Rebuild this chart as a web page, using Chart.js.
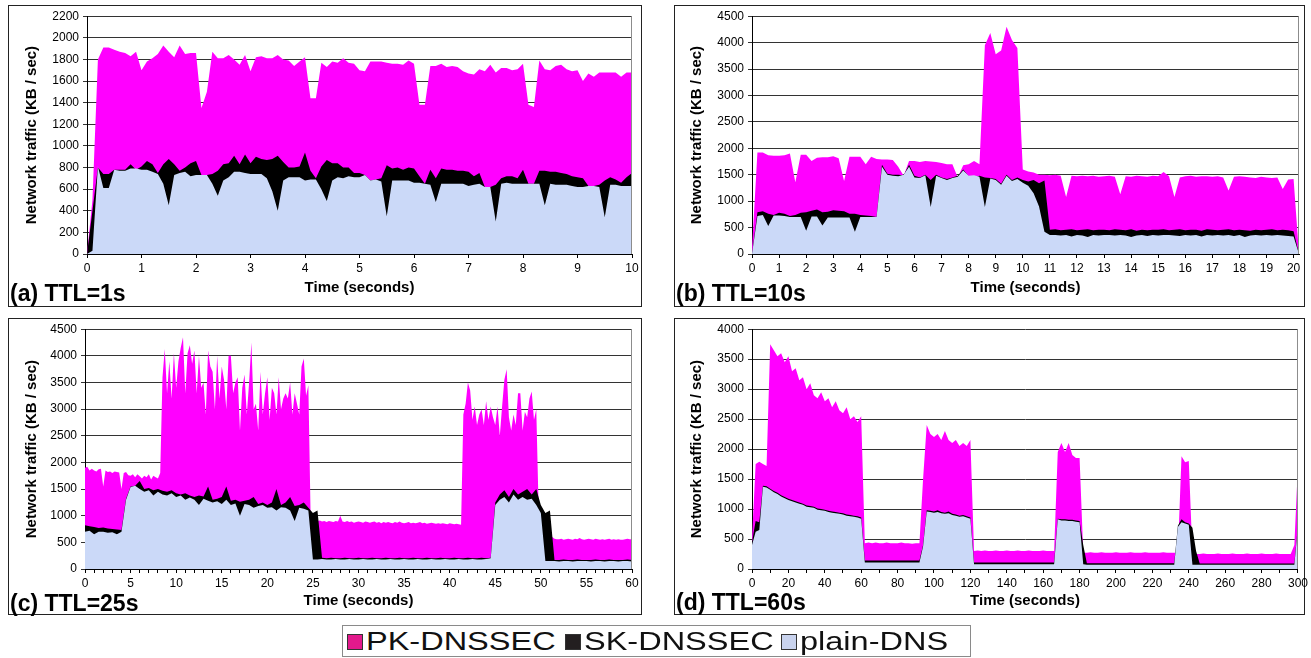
<!DOCTYPE html>
<html lang="en">
<head>
<meta charset="UTF-8">
<title>DNS traffic by TTL</title>
<script src="https://cdn.jsdelivr.net/npm/chart.js@4.4.1/dist/chart.umd.min.js"></script>
<style>
    body{
        margin: 0;
        width: 1311px;
        height: 658px;
        position: relative;
        background: #fff;
        font-family: "Liberation Sans", Arial, sans-serif;
        overflow: hidden;
    }
    .panel{
        position: absolute;
        border: 1.5px solid #222;
        box-sizing: border-box;
    }
    canvas{
        position: absolute;
    }
    .tag{
        position: absolute;
        font-weight: bold;
        font-size: 23px;
        line-height: 23px;
        color: #000;
        white-space: nowrap;
    }
    #legend{
        position: absolute;
        left: 342px; top: 625px;
        width: 629px; height: 32px;
        border: 1px solid #8a8a8a;
        box-sizing: border-box;
    }
    .sw{
        position: absolute;
        top: 8px;
        width: 14px; height: 14px;
        border: 1px solid #333;
    }
    .lt{
        position: absolute;
        top: 3px;
        font-size: 25px;
        line-height: 25px;
        color: #111;
        transform: scaleX(1.3);
        transform-origin: left center;
        white-space: nowrap;
    }
</style>
</head>
<body>
<div class="panel" style="left:8px;top:5px;width:634px;height:302px"></div>
<div class="panel" style="left:674px;top:5px;width:631px;height:302px"></div>
<div class="panel" style="left:8px;top:318px;width:634px;height:297px"></div>
<div class="panel" style="left:674px;top:318px;width:631px;height:297px"></div>

<canvas id="chartA" width="634" height="302" style="left:8px;top:5px"></canvas>
<canvas id="chartB" width="637" height="302" style="left:674px;top:5px"></canvas>
<canvas id="chartC" width="634" height="297" style="left:8px;top:318px"></canvas>
<canvas id="chartD" width="637" height="297" style="left:674px;top:318px"></canvas>

<div class="tag" style="left:10px;top:282px">(a) TTL=1s</div>
<div class="tag" style="left:676px;top:282px">(b) TTL=10s</div>
<div class="tag" style="left:10px;top:592px">(c) TTL=25s</div>
<div class="tag" style="left:676px;top:591px">(d) TTL=60s</div>

<div id="legend">
    <div class="sw" style="left:4px;background:#e2198c"></div>
    <div class="lt" style="left:23px">PK-DNSSEC</div>
    <div class="sw" style="left:222px;background:#231f20"></div>
    <div class="lt" style="left:241px">SK-DNSSEC</div>
    <div class="sw" style="left:438px;background:#c9d3ee"></div>
    <div class="lt" style="left:457px">plain-DNS</div>
</div>

<script>
// ---- (a) TTL=1s, one sample every 0.1 s ----
var timeA = Array.from({length: 101}, function(_, i){ return i / 10; });
var pkA = [
    0,500,1800,1910,1910,1890,1870,1860,1830,1870,
    1700,1780,1810,1850,1930,1870,1820,1930,1850,1860,
    1860,1350,1500,1870,1810,1810,1840,1800,1750,1840,
    1690,1820,1830,1810,1810,1840,1800,1790,1740,1780,
    1820,1440,1440,1770,1730,1780,1770,1810,1770,1760,
    1700,1690,1780,1780,1780,1770,1760,1760,1750,1790,
    1760,1380,1380,1740,1740,1760,1730,1740,1730,1690,
    1670,1660,1710,1690,1750,1680,1720,1720,1700,1710,
    1760,1380,1360,1790,1710,1700,1740,1750,1710,1690,
    1700,1600,1670,1640,1680,1680,1680,1680,1640,1680,
    1680];
var skA = [
    0,400,800,740,740,780,780,780,830,780,
    810,860,830,750,830,880,830,770,800,840,
    860,730,730,740,770,830,840,910,830,920,
    840,900,880,870,880,910,850,800,800,810,
    940,770,700,810,870,840,840,800,800,750,
    750,730,680,690,700,820,790,800,780,800,
    790,720,650,780,700,790,780,780,770,770,
    760,720,750,620,620,640,700,720,720,700,
    780,650,650,770,770,760,760,750,740,720,
    710,700,630,630,640,680,710,690,660,710,
    750];
var plainA = [
    0,30,810,610,610,780,770,770,790,790,
    780,780,760,740,650,450,730,750,760,720,
    730,730,730,650,540,680,710,760,760,750,
    740,740,740,700,580,400,680,710,710,710,
    680,690,690,600,490,680,710,700,720,710,
    710,730,680,690,670,350,680,680,680,680,
    660,660,650,640,480,650,650,650,650,650,
    630,640,650,620,620,300,650,660,650,650,
    650,650,650,650,450,650,640,640,640,630,
    620,620,630,630,620,340,640,640,630,630,
    630];

// ---- (b) TTL=10s, one sample every 0.2 s ----
var timeB = Array.from({length: 102}, function(_, i){ return i / 5; });
var pkB = [
    100,1920,1920,1870,1860,  1860,1870,1900,1360,1880,
    1880,1760,1820,1830,1830, 1850,1810,1380,1840,1840,
    1840,1700,1840,1800,1790, 1790,1780,1650,1480,1760,
    1760,1740,1760,1750,1740, 1720,1700,1700,1450,1680,
    1700,1760,1700,3950,4180, 3780,3850,4300,4050,3900,
    1600,1560,1540,1500,1500, 1490,1500,1480,1080,1480,
    1470,1480,1470,1480,1460, 1470,1480,1460,1130,1470,
    1460,1480,1470,1460,1480, 1470,1550,1470,1080,1450,
    1470,1480,1460,1470,1470, 1460,1470,1450,1200,1460,
    1470,1460,1450,1440,1460, 1450,1440,1450,1230,1410,
    1420,0];
var skB = [
    0,790,810,760,740,        780,760,720,740,780,
    790,820,840,790,800,      830,820,810,760,760,
    740,730,720,700,1690,     1520,1500,1500,1490,1690,
    1480,1450,1500,1400,1500, 1450,1420,1450,1480,1600,
    1470,1450,1480,1450,1440, 1420,1330,1500,1400,1450,
    1400,1370,1400,1340,1390, 460,470,450,460,470,
    450,460,470,450,460,      460,450,470,460,450,
    470,440,460,450,460,      460,470,450,460,470,
    450,460,460,440,470,      460,450,460,470,450,
    460,450,440,460,450,      460,470,450,460,450,
    430,0];
var plainB = [
    0,720,740,530,730,        730,720,700,700,700,
    440,710,710,540,690,      690,690,690,690,420,
    700,700,700,700,1650,     1500,1480,1470,1500,1650,
    1450,1440,1490,890,1480,  1440,1400,1440,1460,1580,
    1480,1490,1460,890,1430,  1400,1310,1480,1380,1420,
    1350,1290,1150,900,420,   360,360,350,360,330,
    360,350,320,360,350,      360,360,350,360,350,
    320,350,360,340,360,      350,360,360,350,340,
    360,350,360,330,360,      350,360,350,360,340,
    360,320,350,360,350,      360,350,360,350,340,
    330,0];

// ---- (c) TTL=25s, PK every 0.25 s, SK / plain every 0.5 s ----
var timeCpk = Array.from({length: 241}, function(_, i){ return i / 4; });
var timeC = Array.from({length: 121}, function(_, i){ return i / 2; });
var pkC = [
    1900,1920,1850,1880, 1850,1830,1870,1880, 1550,1850,1820,1830, 1800,1830,1820,1810,
    1500,1800,1820,1760, 1750,1780,1720,1780, 1740,1700,1750,1720, 1780,1680,1750,1720,
    1700,1800,3600,4130, 3300,3900,3200,4050, 3400,3900,4150,4350, 3300,4050,4200,3850,
    4100,3300,4000,3400, 3500,2900,4100,3800, 3700,3000,4000,3200, 3800,3550,3000,4000,
    4000,3300,3500,3600, 2600,3400,3650,2900, 3500,4250,3000,3100, 2600,3700,2900,3300,
    3600,2800,3400,3300, 2900,3600,3000,3200, 3300,3200,3500,2900, 3300,3100,2900,3800,
    3950,3250,3450,950,  940,920,900,910,     890,900,880,900,     890,880,900,890,
    1000,890,880,900,    880,890,870,880,     890,880,870,890,     880,870,880,890,
    870,880,860,880,     870,880,870,860,     880,870,890,870,     860,870,880,860,
    870,860,870,880,     860,870,850,860,     870,860,850,860,     850,860,850,840,
    860,850,840,850,     840,830,2900,3100,   3500,3350,2800,3050, 2700,2900,3000,2700,
    3150,2800,3050,2850, 2700,3050,2500,3050, 3550,3750,2850,2600, 2900,2700,3300,3300,
    2600,2950,2850,3200, 3330,2800,3000,1200, 1000,800,650,600,    600,600,570,560,
    560,570,550,560,     570,560,550,570,     560,580,560,550,     560,570,560,550,
    570,560,550,560,     550,560,570,550,     560,550,560,550,     550,560,570,560,
    560];
var skC = [
    820,800,790,770,780,760,750,740,730,1320,
    1550,1560,1650,1500,1520,1480,1500,1470,1450,1480,
    1420,1400,1420,1380,1350,1380,1360,1550,1300,1320,
    1350,1550,1280,1300,1260,1280,1300,1350,1220,1250,
    1200,1250,1500,1200,1250,1350,1180,1200,1250,1150,
    1050,1100,210,200,210,200,200,210,200,200,
    210,200,200,210,200,200,210,200,200,210,
    200,200,210,200,200,210,200,200,210,200,
    200,210,200,200,210,200,200,210,200,210,
    1250,1400,1480,1350,1500,1400,1450,1500,1400,1500,
    1200,1050,1100,170,170,180,170,170,180,170,
    170,170,180,170,170,180,170,170,170,180,
    170];
var plainC = [
    700,720,650,700,700,680,690,650,700,1300,
    1540,1560,1500,1450,1480,1380,1450,1400,1380,1420,
    1350,1380,1300,1340,1300,1200,1320,1280,1250,1270,
    1220,1300,1200,1230,1000,1220,1200,1150,1180,1200,
    1150,1160,1100,1160,1150,1100,900,1150,1130,1100,
    180,180,190,180,180,190,180,180,190,180,
    180,190,180,180,190,180,180,190,180,180,
    190,180,180,190,180,180,190,180,180,190,
    180,180,190,180,180,190,180,180,190,200,
    1200,1300,1350,1250,1400,1300,1350,1300,1320,1200,
    1050,150,150,150,140,150,150,140,150,150,
    150,140,150,150,140,150,150,140,150,150,
    140];

// ---- (d) TTL=60s, one sample every 2 s ----
var timeD = Array.from({length: 151}, function(_, i){ return i * 2; });
var pkD = [
    500,1750,1790,1750,1720,3750,3650,3550,3600,3450,
    3550,3300,3350,3150,3200,3000,3100,2900,2850,2950,
    2800,2850,2700,2800,2650,2600,2700,2500,2550,2450,
    2550,430,440,430,440,430,430,440,430,430,
    430,440,430,430,420,430,430,1500,2400,2250,
    2200,2250,2150,2300,2150,2100,2150,2050,2100,2050,
    2150,300,310,300,310,300,300,310,300,300,
    310,300,300,310,300,300,310,300,300,300,
    310,300,300,300,1950,2100,1950,2100,1900,1850,
    1850,270,270,280,270,270,280,270,270,270,
    280,270,270,270,280,270,270,270,280,270,
    270,270,270,280,270,270,270,270,1880,1780,
    1800,250,250,250,260,250,250,250,260,250,
    250,250,260,250,250,250,260,250,250,250,
    260,250,250,250,260,250,250,250,250,400,
    1750];
var skD = [
    450,800,780,1390,1380,1340,1300,1270,1230,1200,
    1170,1150,1130,1110,1090,1060,1050,1040,1010,1000,
    990,970,960,950,940,930,910,900,890,880,
    860,140,140,140,140,140,140,140,140,140,
    140,140,140,140,140,140,140,400,980,970,
    960,980,950,940,960,920,910,890,900,880,
    860,110,110,110,110,110,110,110,110,110,
    110,110,110,110,110,110,110,110,110,110,
    110,110,110,110,840,830,830,820,820,810,
    800,400,95,95,95,95,95,95,95,95,
    95,95,95,95,95,95,95,95,95,95,
    95,95,95,95,95,95,95,720,830,780,
    760,690,300,90,90,90,90,90,90,90,
    90,90,90,90,90,90,90,90,90,90,
    90,90,90,90,90,90,90,90,90,90,
    730];
var plainD = [
    400,620,650,1370,1360,1320,1280,1250,1210,1180,
    1150,1130,1110,1090,1070,1040,1030,1020,990,980,
    970,950,940,930,920,910,890,880,870,860,
    840,110,110,110,110,110,110,110,110,110,
    110,110,110,110,110,110,110,380,960,950,
    940,950,930,920,930,900,890,870,880,860,
    840,80,80,80,80,80,80,80,80,80,
    80,80,80,80,80,80,80,80,80,80,
    80,80,80,80,830,810,810,800,800,790,
    780,80,70,70,70,70,70,70,70,70,
    70,70,70,70,70,70,70,70,70,70,
    70,70,70,70,70,70,70,700,780,760,
    740,70,70,70,70,70,70,70,70,70,
    70,70,70,70,70,70,70,70,70,70,
    70,70,70,70,70,70,70,70,70,70,
    720];

var MAGENTA = "#ff00ff";
var BLACK = "#000000";
var BLUE = "#cbd9f8";

Chart.defaults.font.family = "'Liberation Sans', Arial, sans-serif";
Chart.defaults.color = "#000";

// thin grey line down the right side of the plot, like the original frame
var frame = {
    id: "frame",
    afterDraw: function(chart){
        var a = chart.chartArea, ctx = chart.ctx;
        ctx.save();
        ctx.strokeStyle = "#8c8c8c";
        ctx.lineWidth = 1;
        ctx.beginPath();
        ctx.moveTo(a.right - 0.5, a.top);
        ctx.lineTo(a.right - 0.5, a.bottom);
        ctx.stroke();
        ctx.restore();
    }
};

function pts(t, v){
    return v.map(function(y, i){ return {x: t[i], y: y}; });
}

function area(label, data, color){
    return {label: label, data: data, backgroundColor: color, borderColor: "transparent",
            borderWidth: 0, pointRadius: 0, fill: "origin", tension: 0};
}

function makePanel(id, s){
    new Chart(id, {
        type: "line",
        data: {
            datasets: [
                area("plain-DNS", pts(s.time, s.plain), BLUE),
                area("SK-DNSSEC", pts(s.time, s.sk), BLACK),
                area("PK-DNSSEC", pts(s.pkTime, s.pk), MAGENTA)
            ]
        },
        options: {
            responsive: false,
            animation: false,
            events: [],
            layout: {padding: s.pad},
            plugins: {legend: {display: false}, tooltip: {enabled: false}},
            scales: {
                x: {
                    type: "linear", min: 0, max: s.xMax, z: 1,
                    ticks: {stepSize: s.xStep, autoSkip: false, maxRotation: 0, includeBounds: false,
                            padding: 3, font: {size: 12},
                            callback: function(v){ return v % s.xLabelEvery === 0 ? String(v) : ""; }},
                    grid: {drawOnChartArea: false, tickLength: 4, color: "#000"},
                    border: {color: "#000", width: 1},
                    title: {display: true, text: "Time (seconds)", font: {size: 15, weight: "bold"},
                            padding: {top: 4, bottom: 4}},
                    afterFit: function(sc){ sc.height = s.xH; }
                },
                y: {
                    min: 0, max: s.yMax, z: 1,
                    ticks: {stepSize: s.yStep, padding: 4, font: {size: 12},
                            callback: function(v){ return String(v); }},
                    grid: {color: "#333", tickLength: 4},
                    border: {color: "#000", width: 1},
                    title: {display: true, text: "Network traffic (KB / sec)", font: {size: 15, weight: "bold"},
                            padding: {top: 4, bottom: 4}},
                    afterFit: function(sc){ sc.width = s.yW; }
                }
            }
        },
        plugins: [frame]
    });
}

makePanel("chartA", {time: timeA, pkTime: timeA, pk: pkA, sk: skA, plain: plainA,
    xMax: 10, xStep: 1, xLabelEvery: 1, yMax: 2200, yStep: 200,
    pad: {left: 11, right: 10, top: 9, bottom: 6}, yW: 68, xH: 47});
makePanel("chartB", {time: timeB, pkTime: timeB, pk: pkB, sk: skB, plain: plainB,
    xMax: 20.2, xStep: 1, xLabelEvery: 1, yMax: 4500, yStep: 500,
    pad: {left: 10, right: 12, top: 9, bottom: 6}, yW: 68, xH: 47});
makePanel("chartC", {time: timeC, pkTime: timeCpk, pk: pkC, sk: skC, plain: plainC,
    xMax: 60, xStep: 1, xLabelEvery: 5, yMax: 4500, yStep: 500,
    pad: {left: 11, right: 10, top: 9, bottom: 1}, yW: 66, xH: 45});
makePanel("chartD", {time: timeD, pkTime: timeD, pk: pkD, sk: skD, plain: plainD,
    xMax: 300, xStep: 10, xLabelEvery: 20, yMax: 4000, yStep: 500,
    pad: {left: 10, right: 13, top: 9, bottom: 1}, yW: 68, xH: 45});
</script>
</body>
</html>
